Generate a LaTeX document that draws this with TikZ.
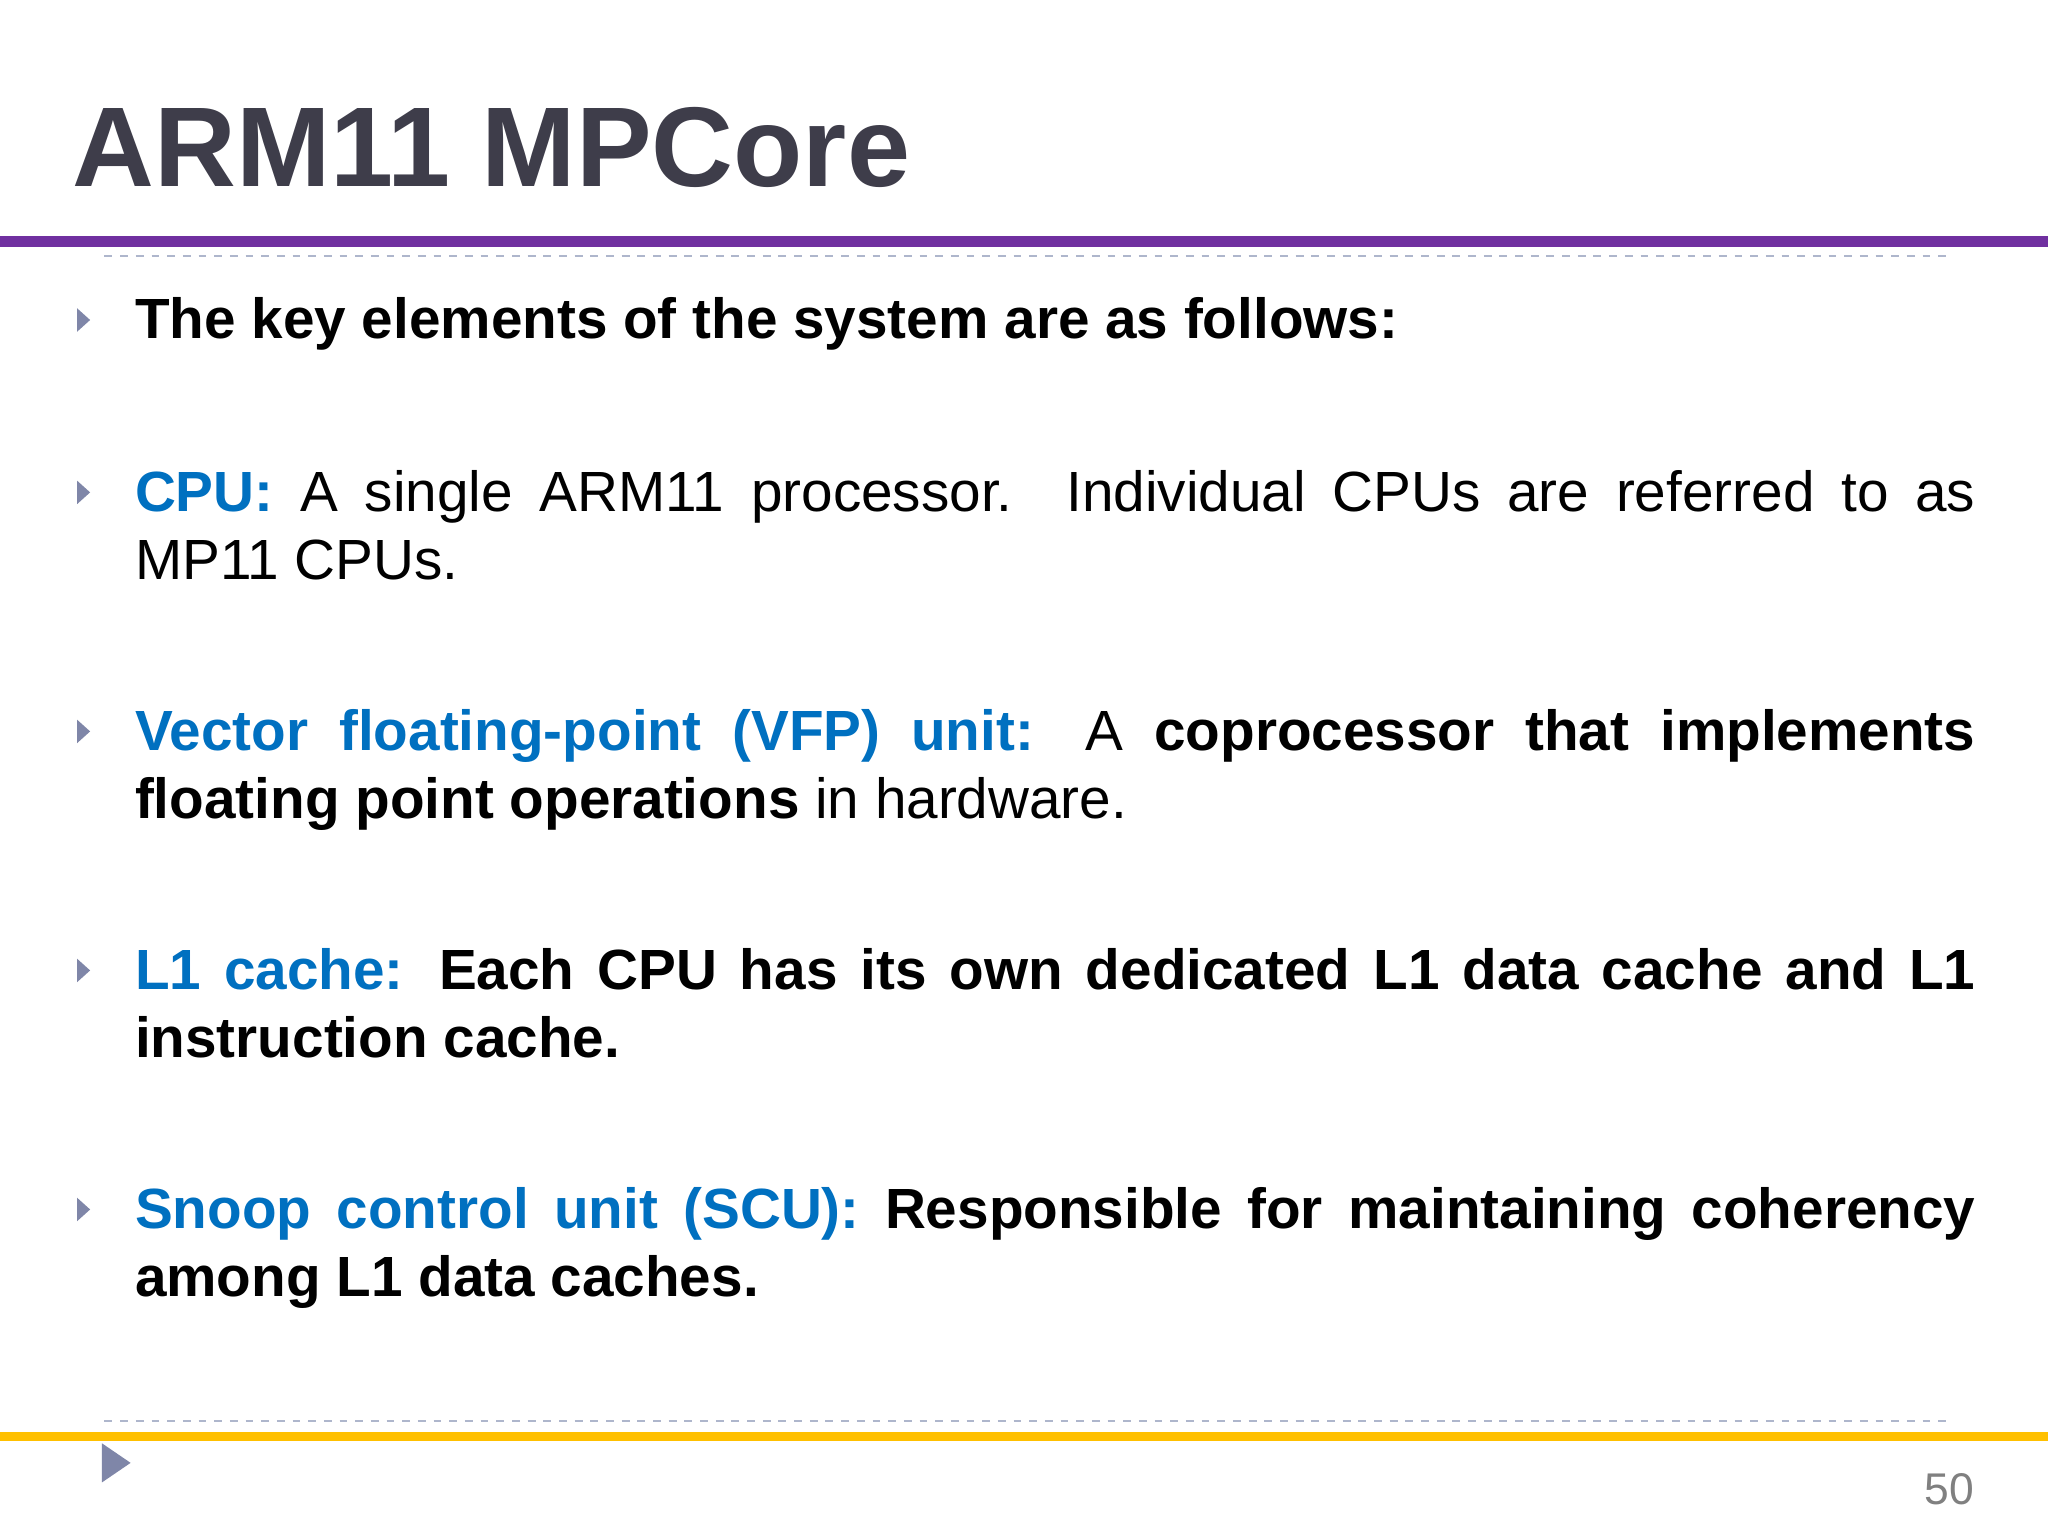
\documentclass[tikz,border=0pt]{standalone}
\usepackage{fontspec}
\setmainfont{Liberation Sans}
\definecolor{tblue}{HTML}{0070C0}
\definecolor{ttl}{HTML}{3E3D4A}
\definecolor{purp}{HTML}{7030A0}
\definecolor{yel}{HTML}{FFC000}
\definecolor{bul}{HTML}{7F86A8}
\definecolor{dsh}{HTML}{AEB6CC}
\begin{document}
\begin{tikzpicture}[x=0.5pt,y=-0.5pt,
 txt/.style={anchor=north west,inner sep=0pt,text width=704.5pt,align=justify,font=\fontsize{21.7}{26}\selectfont},
 bl/.style={fill=bul,draw=none}]
\useasboundingbox (0,0) rectangle (1568,1176);
\fill[white] (0,0) rectangle (1568,1176);
\node[anchor=base west,inner sep=0pt,text=ttl,font=\fontsize{43.4}{50}\selectfont\bfseries] (title) at (55,143) {ARM11 MPCore};
\fill[purp] (0,181) rectangle (1568,189);
\draw[dsh,dashed,line width=1pt] (80,196) -- (1490,196);
\draw[dsh,dashed,line width=1pt] (80,1088) -- (1490,1088);
\fill[yel] (0,1096) rectangle (1568,1103);
\fill[bul] (78,1105) -- (100,1120) -- (78,1135) -- cycle;
\node[anchor=base east,inner sep=0pt,text=gray,font=\fontsize{17}{20}\selectfont] (pg) at (1512,1152) {50};
\foreach \y/\n in {245/b1,377/b2,560/b3,743/b4,926/b5}{
  \fill[bul] (59,\y-9) -- (69,\y) -- (59,\y+9) -- cycle;}
\node[txt] (t1) at (103,222) {\strut\textbf{The key elements of the system are as follows:}};
\node[txt] (t2) at (103,355) {\strut\textcolor{tblue}{\textbf{CPU:}} A single ARM11 processor. Individual CPUs are referred to as\linebreak MP11 CPUs.};
\node[txt] (t3) at (103,538) {\strut\textcolor{tblue}{\textbf{Vector floating-point (VFP) unit:}} A \textbf{coprocessor that implements\linebreak floating point operations} in hardware.};
\node[txt] (t4) at (103,721) {\strut\textcolor{tblue}{\textbf{L1 cache:}} \textbf{Each CPU has its own dedicated L1 data cache and L1\linebreak instruction cache.}};
\node[txt] (t5) at (103,904) {\strut\textcolor{tblue}{\textbf{Snoop control unit (SCU):}} \textbf{Responsible for maintaining coherency\linebreak among L1 data caches.}};
\end{tikzpicture}
\end{document}
